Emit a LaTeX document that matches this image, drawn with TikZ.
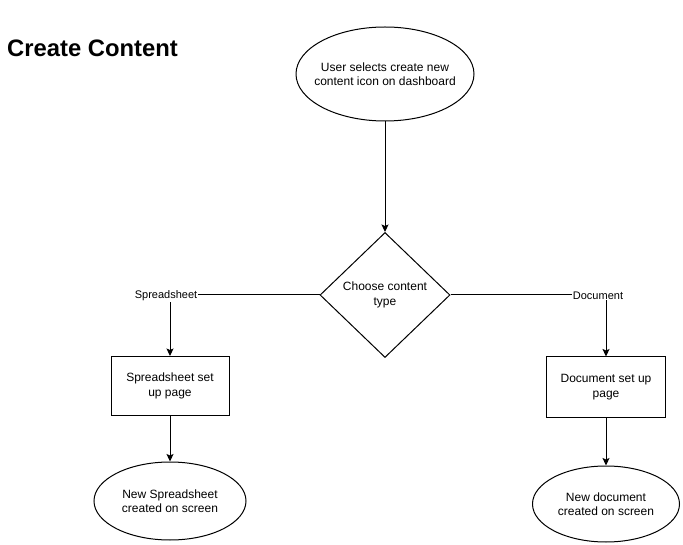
\documentclass[tikz,border=0pt]{standalone}
\usepackage{fontspec}
\setmainfont{Liberation Sans}
\usetikzlibrary{shapes.geometric,arrows.meta}

\begin{document}
\begin{tikzpicture}[x=1pt,y=-1pt,
  every node/.style={font=\fontsize{12}{14.5}\selectfont, align=center, inner sep=0pt},
  base/.style={draw=black, line width=1pt, fill=white},
  % the oval's text is set as a centred label, so the text box does not widen the outline
  oval/.style={base, ellipse, label={[align=center, font=\fontsize{12}{14.5}\selectfont]center:#1}},
  stepbox/.style={base, rectangle},
  choice/.style={base, diamond},
  flow/.style={draw=black, line width=1pt, -{Stealth[length=7.5pt,width=7pt,inset=1.5pt]}},
  branch/.style={fill=white, font=\fontsize{11}{13}\selectfont, inner sep=0.5pt}
]
\useasboundingbox (0,0) rectangle (683,545);

% heading
\node[anchor=base west, font=\fontsize{23.8}{28}\selectfont\bfseries] (title) at (7,57) {Create Content};

% start
\node[oval={User selects create new\\content icon on dashboard}, minimum width=178pt, minimum height=94pt] (start) at (385,74) {};

% decision
\node[choice, minimum width=130pt, minimum height=125pt] (type) at (385,295)
  {Choose content\\type};

% spreadsheet branch
\node[stepbox, minimum width=118pt, minimum height=59pt] (sheetpage) at (170,386)
  {Spreadsheet set\\up page};
\node[oval={New Spreadsheet\\created on screen}, minimum width=152pt, minimum height=78pt] (sheetdone) at (170,501) {};

% document branch
\node[stepbox, minimum width=119pt, minimum height=60pt] (docpage) at (606,387)
  {Document set up\\page};
\node[oval={New document\\created on screen}, minimum width=147pt, minimum height=76pt] (docdone) at (606,504) {};

% connectors
\draw[flow] (start.south) -- (type.north);
\draw[flow] (type.west) -| (sheetpage.north);
\draw[flow] (type.east) -| (docpage.north);
\draw[flow] (sheetpage.south) -- (sheetdone.north);
\draw[flow] (docpage.south) -- (docdone.north);

% branch labels
\node[branch] (lsheet) at (166,296) {Spreadsheet};
\node[branch] (ldoc) at (598,296) {Document};
\end{tikzpicture}
\end{document}
